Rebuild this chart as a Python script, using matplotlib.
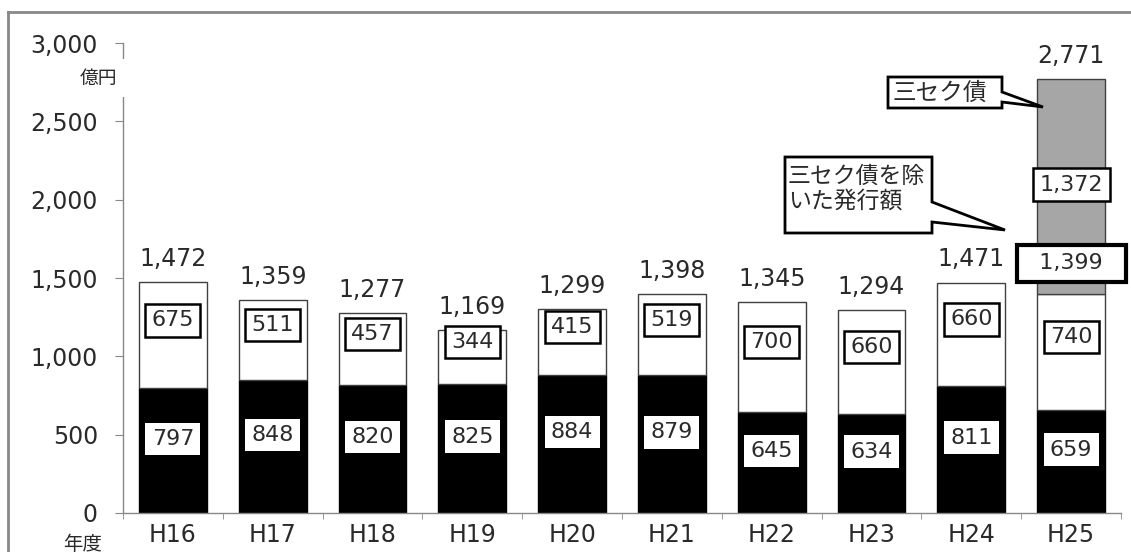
import numpy as np
import matplotlib.pyplot as plt
from matplotlib.lines import Line2D
from matplotlib.patches import Polygon

plt.rcParams['font.family'] = ['DejaVu Sans', 'Noto Sans CJK JP']

# 発行額 (億円)
years = ['H16', 'H17', 'H18', 'H19', 'H20', 'H21', 'H22', 'H23', 'H24', 'H25']
lower = [797, 848, 820, 825, 884, 879, 645, 634, 811, 659]
upper = [675, 511, 457, 344, 415, 519, 700, 660, 660, 740]
sanseku = [0, 0, 0, 0, 0, 0, 0, 0, 0, 1372]

W, H = 1131, 552
GREY = '#888888'
TXT = '#2a2a2a'

fig = plt.figure(figsize=(W / 100, H / 100), dpi=100)
ax = fig.add_axes([123 / W, 1 - 513 / H, 998 / W, 470 / H])

x = np.arange(len(years))
lo = np.array(lower)
up = np.array(upper)
sk = np.array(sanseku)
excl = lo + up
total = excl + sk
bw = 0.68

ax.bar(x, lo, bw, color='black', edgecolor='black', lw=1)
ax.bar(x, up, bw, bottom=lo, color='white', edgecolor='#404040', lw=1)
has = sk > 0
ax.bar(x[has], sk[has], bw, bottom=excl[has], color='#a6a6a6', edgecolor='#404040', lw=1)

fs = 16
for i in range(len(years)):
    ax.text(x[i], lo[i] / 2 + 75, f'{lo[i]:,}', ha='center', va='center', fontsize=fs, color=TXT,
            bbox=dict(boxstyle='square,pad=0.28', fc='white', ec='none'))
    ax.text(x[i], lo[i] + up[i] / 2 + 95, f'{up[i]:,}', ha='center', va='center', fontsize=fs,
            color=TXT, bbox=dict(boxstyle='square,pad=0.28', fc='white', ec='black', lw=1.8))
    ax.annotate(f'{total[i]:,}', (x[i], total[i]), xytext=(0, 8), textcoords='offset points',
                ha='center', va='bottom', fontsize=17, color=TXT)

# 三セク債 and the amount without it on H25
for i in np.where(has)[0]:
    ax.text(x[i], excl[i] + sk[i] / 2 + 10, f'{sk[i]:,}', ha='center', va='center', fontsize=fs,
            color=TXT, zorder=5,
            bbox=dict(boxstyle='square,pad=0.3', fc='white', ec='black', lw=1.8))
    ax.annotate(f'  {excl[i]:,}  ', (x[i], excl[i]), xytext=(0, 22), textcoords='offset points',
                ha='center', va='center', fontsize=fs, color=TXT, zorder=6,
                bbox=dict(boxstyle='square,pad=0.38', fc='white', ec='black', lw=3))

ax.set_xlim(-0.5, len(years) - 0.5)
ax.set_ylim(0, 3000)
ax.set_yticks(range(0, 3001, 500))
ax.set_yticklabels([f'{v:,}' for v in range(0, 3001, 500)], fontsize=17, color=TXT)
ax.set_xticks(x)
ax.set_xticklabels(years, fontsize=17, color=TXT)
ax.set_xticks(np.arange(-0.5, len(years), 1), minor=True)
ax.tick_params(axis='x', which='major', length=0, pad=7)
ax.tick_params(axis='x', which='minor', length=4, color=GREY)
ax.tick_params(axis='y', length=6, color=GREY, pad=12)
for s in ['top', 'right']:
    ax.spines[s].set_visible(False)
for s in ['left', 'bottom']:
    ax.spines[s].set_color(GREY)
    ax.spines[s].set_linewidth(1)


def P(px, py):
    return (px / W, 1 - py / H)


fig.text(*P(117, 78), '億円', ha='right', va='center', fontsize=13.5, color=TXT, zorder=5,
         bbox=dict(boxstyle='square,pad=0.5', fc='white', ec='none'))
fig.text(*P(83, 544), '年度', ha='center', va='center', fontsize=14, color=TXT)

# callouts
c1 = [(888, 77), (1002, 77), (1002, 92), (1043, 107), (1002, 102), (1002, 108), (888, 108)]
c2 = [(785, 157), (932, 157), (932, 202), (1005, 230), (932, 222), (932, 233), (785, 233)]
for pts in (c1, c2):
    fig.add_artist(Polygon([P(*p) for p in pts], closed=True, transform=fig.transFigure,
                           fc='white', ec='black', lw=2, zorder=7))
fig.text(*P(892, 93), '三セク債', ha='left', va='center', fontsize=17, color=TXT, zorder=8)
fig.text(*P(788, 189), '三セク債を除\nいた発行額', ha='left', va='center', fontsize=16.5,
         color=TXT, linespacing=1.1, zorder=8)

# outer frame
fig.add_artist(Line2D([8 / W, 8 / W], [0, 1 - 12 / H], color=GREY, lw=2))
fig.add_artist(Line2D([8 / W, 1], [1 - 12 / H, 1 - 12 / H], color=GREY, lw=2))

fig.savefig('out.png', dpi=100)
